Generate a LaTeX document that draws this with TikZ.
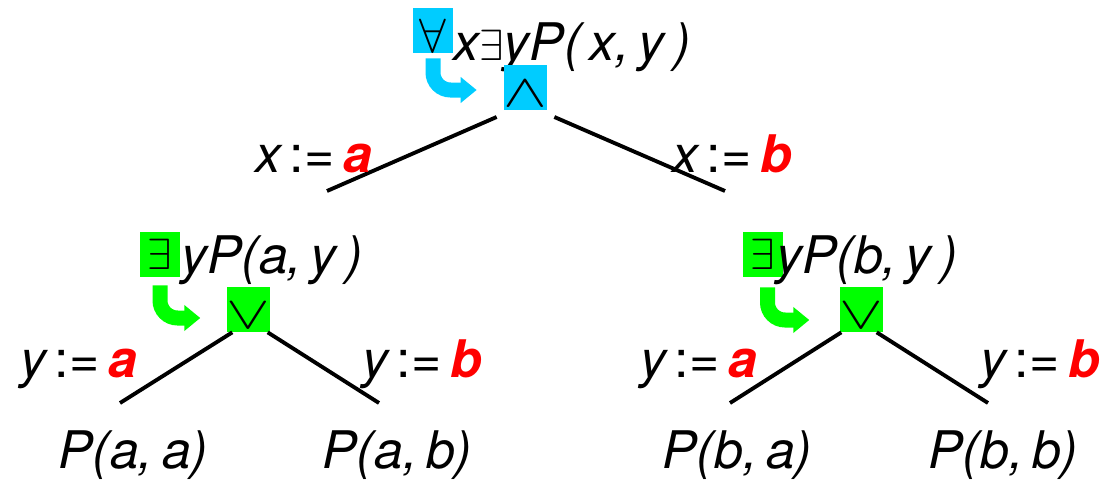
\documentclass[tikz,border=0pt]{standalone}
\usepackage{fontspec}
\usepackage{graphicx}
\setmainfont{TeX Gyre Heros}
\usetikzlibrary{arrows.meta}
\definecolor{qblue}{RGB}{0,204,255}
\definecolor{qgreen}{RGB}{0,255,0}
\definecolor{vred}{RGB}{255,0,0}
\newcommand{\val}[1]{\textcolor{vred}{\bfseries #1}}
\newcommand{\asg}[2]{#1\,{\upshape :=}\,\val{#2}}
\newcommand{\conn}[1]{\raisebox{-0.38cm}[0pt][0pt]{\scalebox{1.5}[1.05]{$#1$}}}

\begin{document}
\begin{tikzpicture}[x=0.02cm, y=-0.02cm,
		term/.style={inner sep=0pt, anchor=base west, font=\fontsize{29.5}{35}\selectfont\itshape},
		qbox/.style={fill=#1, inner sep=0pt, minimum width=0.8cm, minimum height=0.9cm, font=\fontsize{29.5}{35}\selectfont},
		branch/.style={line width=2.2pt},
		turnarrow/.style={draw=#1, line width=0.3cm, rounded corners=0.35cm, -{Triangle[length=0.32cm, width=0.5cm]}}]
			\useasboundingbox (0,0) rectangle (1106,487);
			% root
			\node[qbox=qblue] (all) at (433,30.5) {\raisebox{-0.44cm}[0pt][0pt]{\scalebox{1.1}{$\forall$}}};
			\node[term] (top) at (453,60) {x$\exists$yP(\,x,\,y\,)};
			\node[qbox=qblue, outer sep=0.14cm] (and) at (525.5,87.5) {\conn{\wedge}};
			\draw[turnarrow=qblue] ([yshift=-0.1cm]all.south) |- ([xshift=-0.4cm,yshift=-0.05cm]and.west);
			% left subtree
			\node[qbox=qgreen] (exA) at (160,254.5) {$\exists$};
			\node[term] (fA) at (181,273) {yP(a,\,y\,)};
			\node[qbox=qgreen] (orA) at (248.5,309.5) {\conn{\vee}};
			\draw[turnarrow=qgreen] ([yshift=-0.16cm]exA.south) |- ([xshift=-0.52cm,yshift=-0.17cm]orA.west);
			% right subtree
			\node[qbox=qgreen] (exB) at (762.5,254.5) {$\exists$};
			\node[term] (fB) at (776,273) {yP(b,\,y\,)};
			\node[qbox=qgreen] (orB) at (861.5,309.5) {\conn{\vee}};
			\draw[turnarrow=qgreen] ([xshift=0.1cm,yshift=-0.2cm]exB.south) |- ([xshift=-0.6cm,yshift=-0.21cm]orB.west);
			% branch ends
			\coordinate (xa) at (327,191);
			\coordinate (xb) at (725,191);
			\coordinate (aya) at (120,403);
			\coordinate (ayb) at (379,403);
			\coordinate (bya) at (730,403);
			\coordinate (byb) at (988,403);
			% branches
			\draw[branch] (and.south west) -- (xa);
			\draw[branch] (and.south east) -- (xb);
			\draw[branch] ([xshift=0.12cm]orA.south west) -- (aya);
			\draw[branch] ([xshift=-0.06cm]orA.south east) -- (ayb);
			\draw[branch] ([xshift=0.04cm]orB.south west) -- (bya);
			\draw[branch] ([xshift=-0.14cm]orB.south east) -- (byb);
			% assignments
			\node[term] (lxa) at (255,172) {\asg{x}{a}};
			\node[term] (lxb) at (672,172) {\asg{x}{b}};
			\node[term] (laya) at (20,377) {\asg{y}{a}};
			\node[term] (layb) at (362,377) {\asg{y}{b}};
			\node[term] (lbya) at (640,377) {\asg{y}{a}};
			\node[term] (lbyb) at (980,377) {\asg{y}{b}};
			% leaves
			\node[term] (paa) at (58,468) {P(a,\,a)};
			\node[term] (pab) at (322,468) {P(a,\,b)};
			\node[term] (pba) at (662,468) {P(b,\,a)};
			\node[term] (pbb) at (928,468) {P(b,\,b)};
		\end{tikzpicture}
\end{document}
